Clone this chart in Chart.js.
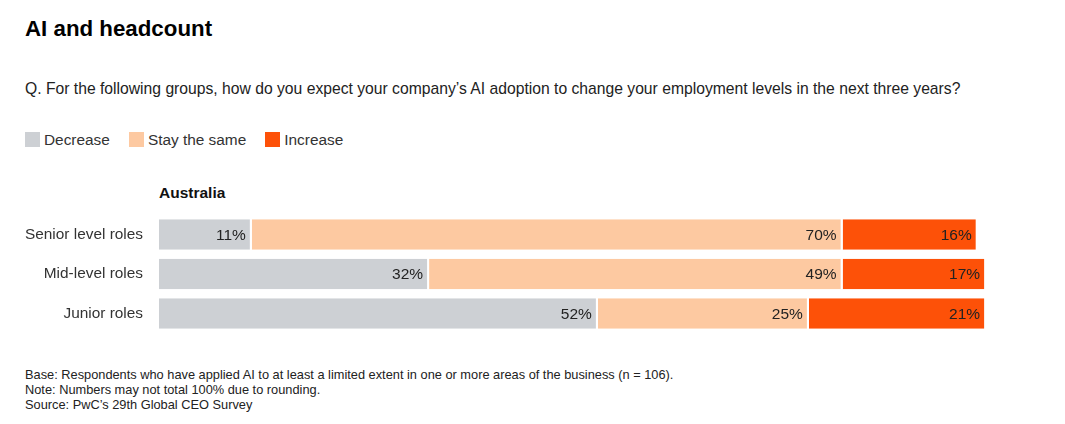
<!DOCTYPE html>
<html>
<head>
<meta charset="utf-8">
<script src="https://cdn.jsdelivr.net/npm/chart.js@4"></script>
<style>
  html, body { margin: 0; padding: 0; background: #fff; }
  body { width: 1065px; height: 424px; position: relative; overflow: hidden;
         font-family: "Liberation Sans", Arial, Helvetica, sans-serif; color: #1a1a1a; }
  .abs { position: absolute; white-space: nowrap; }
  #title { left: 25px; top: 16px; font-size: 22.3px; font-weight: bold; color: #000; }
  #question { left: 25px; top: 80px; font-size: 15.7px; color: #222; }
  #legend { left: 25px; top: 131px; font-size: 15.4px; color: #333; }
  #legend span.item { display: inline-block; margin-right: 19px; }
  #legend span.sw { display: inline-block; width: 15px; height: 15px; vertical-align: -2px; margin-right: 4px; }
  #group { left: 159px; top: 184px; font-size: 15.5px; font-weight: bold; color: #111; }
  #notes { left: 25px; top: 367px; font-size: 12.8px; line-height: 15px; color: #222; }
  #chartCanvas { position: absolute; left: 0; top: 200px; }
</style>
</head>
<body>
<div class="abs" id="title">AI and headcount</div>
<div class="abs" id="question">Q. For the following groups, how do you expect your company’s AI adoption to change your employment levels in the next three years?</div>
<div class="abs" id="legend"></div>
<div class="abs" id="group">Australia</div>
<canvas id="chartCanvas" width="1065" height="140"></canvas>
<div class="abs" id="notes">
  Base: Respondents who have applied AI to at least a limited extent in one or more areas of the business (n = 106).<br>
  Note: Numbers may not total 100% due to rounding.<br>
  Source: PwC’s 29th Global CEO Survey
</div>

<script>
var categories = ['Senior level roles', 'Mid-level roles', 'Junior roles'];
var seriesNames = ['Decrease', 'Stay the same', 'Increase'];
var decrease = [11, 32, 52];
var staySame = [70, 49, 25];
var increase = [16, 17, 21];
var seriesColors = ['#cdd0d4', '#fdc9a1', '#fd5108'];

(function() {
  'use strict';

  // html legend
  var legend = document.getElementById('legend');
  seriesNames.forEach(function(name, i) {
    var item = document.createElement('span');
    item.className = 'item';
    item.innerHTML = '<span class="sw" style="background:' + seriesColors[i] + '"></span>' + name;
    legend.appendChild(item);
  });

  // value labels at the inner end of each segment
  var segmentLabels = {
    id: 'segmentLabels',
    afterDatasetsDraw: function(chart) {
      var ctx = chart.ctx;
      ctx.save();
      ctx.font = '15.5px "Liberation Sans", Arial, sans-serif';
      ctx.fillStyle = '#222';
      ctx.textAlign = 'right';
      ctx.textBaseline = 'middle';
      chart.data.datasets.forEach(function(ds, di) {
        var meta = chart.getDatasetMeta(di);
        meta.data.forEach(function(bar, i) {
          ctx.fillText(ds.data[i] + '%', bar.x - 6, bar.y + 1);
        });
      });
      ctx.restore();
    }
  };

  var seriesData = [decrease, staySame, increase];
  var datasets = seriesNames.map(function(name, i) {
    return {
      label: name,
      data: seriesData[i],
      backgroundColor: seriesColors[i],
      borderColor: '#ffffff',
      borderWidth: { left: 0, top: 0, bottom: 0, right: 2 },
      borderSkipped: false,
      barPercentage: 0.77,
      categoryPercentage: 1
    };
  });

  var ctx = document.getElementById('chartCanvas').getContext('2d');
  new Chart(ctx, {
    type: 'bar',
    data: { labels: categories, datasets: datasets },
    options: {
      indexAxis: 'y',
      responsive: false,
      animation: false,
      devicePixelRatio: 1,
      layout: { padding: { top: 14.75, bottom: 6.75, left: 0, right: 62 } },
      plugins: { legend: { display: false }, tooltip: { enabled: false } },
      scales: {
        x: { stacked: true, min: 0, max: 100, display: false },
        y: {
          stacked: true,
          grid: { display: false, drawTicks: false },
          border: { display: false },
          ticks: {
            color: '#333',
            padding: 16,
            font: { size: 15.4, family: '"Liberation Sans", Arial, sans-serif' }
          },
          afterFit: function(scale) {
            scale.width = 159;
            scale.paddingTop = 0;
            scale.paddingBottom = 0;
          }
        }
      }
    },
    plugins: [segmentLabels]
  });
})();
</script>
</body>
</html>
